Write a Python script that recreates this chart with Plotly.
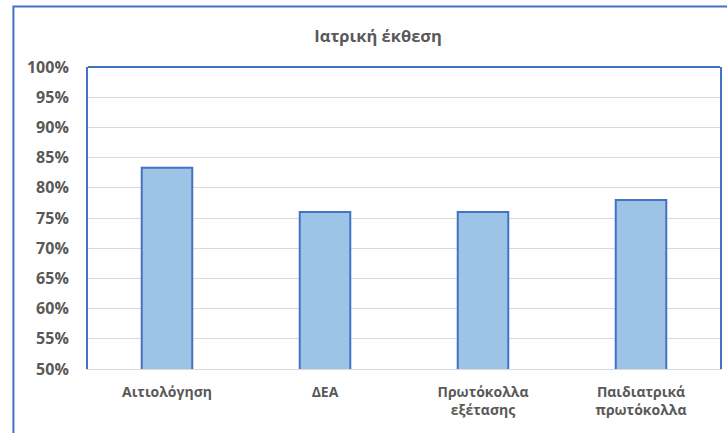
import plotly.graph_objects as go

categories = ["Αιτιολόγηση", "ΔΕΑ", "Πρωτόκολλα<br>εξέτασης", "Παιδιατρικά<br>πρωτόκολλα"]
values = [0.833, 0.76, 0.76, 0.78]
title_text = "Ιατρική έκθεση"

BLUE = "#4472C4"
GRAY = "#595959"
GRID = "#D9D9D9"
FONT = "Open Sans"

fig = go.Figure(go.Bar(
    x=categories, y=values,
    marker=dict(color="#9DC3E6", line=dict(color=BLUE, width=2)),
    hoverinfo="skip",
))

fig.update_layout(
    width=727, height=433,
    margin=dict(l=88, r=5, t=67, b=64),
    paper_bgcolor="white", plot_bgcolor="white",
    bargap=0.68,
    showlegend=False,
    font=dict(family=FONT, color=GRAY),
    title=dict(text="<b>" + title_text + "</b>", x=0.459, xref="paper", xanchor="center",
               y=1 - 36 / 433, yref="container", yanchor="middle",
               font=dict(size=16.5, color=GRAY, family=FONT)),
    xaxis=dict(showline=True, linecolor=GRID, linewidth=1, ticks="",
               ticklabelstandoff=10,
               tickfont=dict(size=14, color=GRAY, family=FONT, weight="bold"),
               fixedrange=True),
    yaxis=dict(range=[0.5, 1.0], dtick=0.05, tickformat=".0%",
               showgrid=True, gridcolor=GRID, gridwidth=1,
               showline=True, linecolor=BLUE, linewidth=2, mirror=True,
               zeroline=False, ticks="", ticklabelstandoff=14,
               tickfont=dict(size=16, color=GRAY, family=FONT, weight="bold"),
               fixedrange=True),
    shapes=[
        dict(type="line", xref="paper", yref="paper", x0=0, x1=1, y0=1, y1=1,
             line=dict(color=BLUE, width=2)),
        dict(type="rect", xref="paper", yref="paper", x0=-0.118, x1=1.2, y0=-0.5, y1=1.2,
             line=dict(color=BLUE, width=2), layer="below"),
    ],
)

fig.write_html("out.html", config={"displayModeBar": False},
               post_script="document.body.style.margin='0px';")
